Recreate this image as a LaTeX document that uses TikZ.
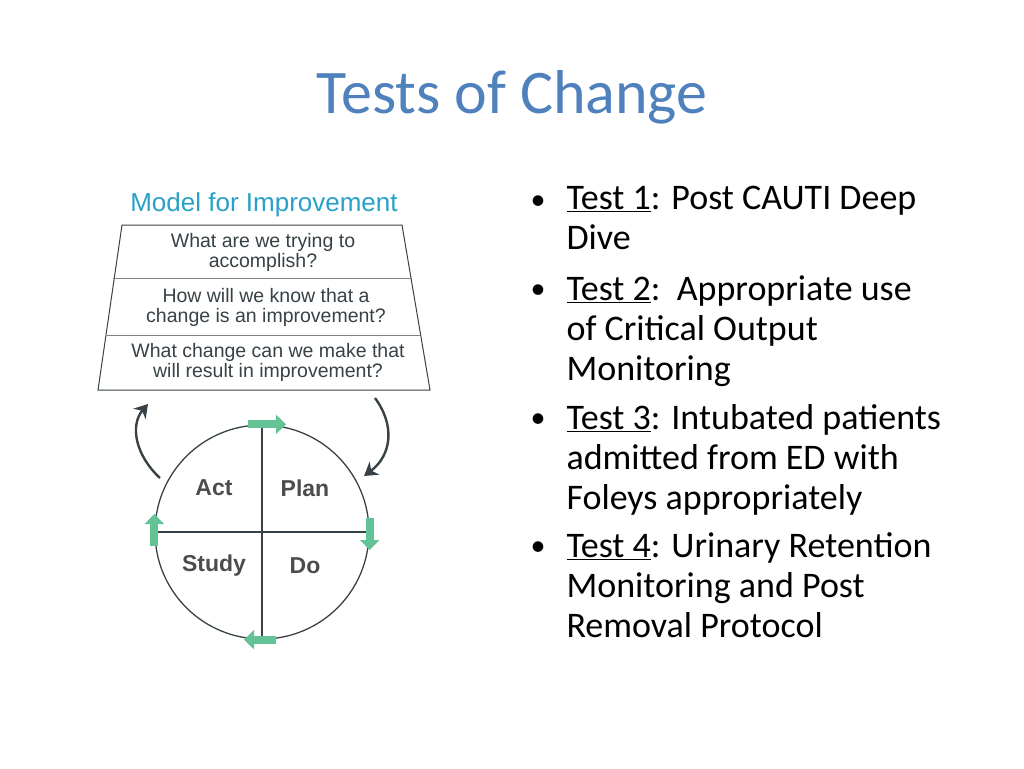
\documentclass[tikz,border=0pt]{standalone}
\usepackage{fontspec}
\setmainfont{Carlito}
\newfontfamily\arialf{Liberation Sans}
\usetikzlibrary{arrows.meta}
\definecolor{titleblue}{RGB}{79,129,189}
\definecolor{teal}{RGB}{40,160,200}
\definecolor{pdsagreen}{RGB}{100,195,150}
\definecolor{dgray}{RGB}{55,65,70}
\tikzset{
  qtext/.style={font=\arialf\fontsize{19.5}{20}\selectfont, text=dgray, align=center},
  quad/.style={font=\arialf\bfseries\fontsize{23}{24}\selectfont, text=black!70},
  btext/.style={font=\fontsize{36}{40}\selectfont, anchor=west, align=left},
  gar/.style={pdsagreen, line width=8pt, -{Triangle[length=10pt,width=19pt]}},
  curv/.style={dgray, line width=2.4pt, -{Stealth[length=13pt,width=16pt,inset=4pt]}}
}
\begin{document}
\begin{tikzpicture}[x=1pt,y=-1pt]
\useasboundingbox (0,0) rectangle (1024,768);
\node[font=\fontsize{62}{66}\selectfont, text=titleblue] (title) at (512,97) {Tests of Change};
\node[font=\arialf\fontsize{26}{28}\selectfont, text=teal] (model) at (264,205) {Model for Improvement};
% trapezoid
\draw[dgray, line width=1pt] (122,225) -- (402,225) -- (430,390) -- (98,390) -- cycle;
\draw[gray, line width=0.8pt] (113,278) -- (411,278);
\draw[gray, line width=0.8pt] (107,335) -- (420,335);
\node[qtext] (q1) at (263,252) {What are we trying to\\accomplish?};
\node[qtext] (q2) at (266,307) {How will we know that a\\change is an improvement?};
\node[qtext] (q3) at (268,362) {What change can we make that\\will result in improvement?};
% circle
\node[draw=dgray, line width=1.3pt, circle, minimum size=214pt, inner sep=0] (c) at (262,532) {};
\draw[dgray, line width=1.3pt] (c.north) -- (c.south);
\draw[dgray, line width=1.3pt] (c.west) -- (c.east);
\node[quad] (act) at (214,488) {Act};
\node[quad] (plan) at (305,488) {Plan};
\node[quad] (study) at (214,566) {Study};
\node[quad] (do) at (305,566) {Do};
\draw[gar] ([xshift=-14pt]c.north) -- ([xshift=24pt]c.north);
\draw[gar] ([yshift=14pt]c.east) -- ([yshift=-18pt]c.east);
\draw[gar] ([xshift=14pt]c.south) -- ([xshift=-18pt]c.south);
\draw[gar] ([yshift=-14pt]c.west) -- ([yshift=18pt]c.west);
\coordinate (la) at (160,478);
\coordinate (lb) at (148,404);
\coordinate (ra) at (375,398);
\coordinate (rb) at (364,476);
\draw[curv] (la) .. controls (135,455) and (130,425) .. (lb);
\draw[curv] (ra) .. controls (395,425) and (392,455) .. (rb);
% bullets
\foreach \y/\t [count=\i] in {203/{\underline{Test 1}: Post CAUTI Deep\\Dive},
  292/{\underline{Test 2}:\ \ Appropriate use\\of Critical Output\\Monitoring},
  421/{\underline{Test 3}: Intubated patients\\admitted from ED with\\Foleys appropriately},
  549/{\underline{Test 4}: Urinary Retention\\Monitoring and Post\\Removal Protocol}}{
  \node[font=\fontsize{30}{40}\selectfont] (b\i) at (538,\y) {•};
  \node[btext, anchor=north west] (t\i) at (563,\y-20) {\t};
}
\end{tikzpicture}
\end{document}
